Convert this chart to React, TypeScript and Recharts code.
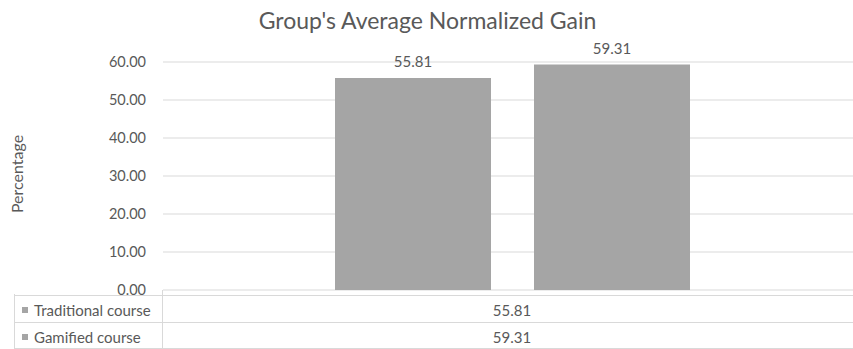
import { BarChart, Bar, XAxis, YAxis, CartesianGrid, LabelList } from 'recharts';

const categories = ['Group'];
const seriesNames = ['Traditional course', 'Gamified course'];
const traditional = [55.81];
const gamified = [59.31];
const yTicks = [0, 10, 20, 30, 40, 50, 60];

const data = categories.map((name, i) => ({
  name,
  traditional: traditional[i],
  gamified: gamified[i],
}));

const seriesValues = [traditional, gamified];

const font = 'Lato, "Open Sans", sans-serif';
const textGrey = '#595959';
const lineGrey = '#d9d9d9';
const barGrey = '#a5a5a5';

// data table rows under the plot
const rowTops = [295, 322];
const rowTextTops = [302, 329];

const App = () => {
  return (
    <div
      style={{
        position: 'fixed',
        left: 0,
        top: 0,
        width: 853,
        height: 349,
        overflow: 'hidden',
        background: '#fff',
        fontFamily: font,
      }}
    >
      <div
        style={{
          position: 'absolute',
          left: 0,
          width: 855,
          top: 7,
          textAlign: 'center',
          fontSize: 23,
          lineHeight: '26px',
          color: textGrey,
        }}
      >
        Group's Average Normalized Gain
      </div>
      <div
        style={{
          position: 'absolute',
          left: 17,
          top: 174,
          transform: 'translate(-50%, -50%) rotate(-90deg)',
          fontSize: 16,
          lineHeight: '18px',
          color: textGrey,
          whiteSpace: 'nowrap',
        }}
      >
        Percentage
      </div>

      <BarChart
        width={862}
        height={349}
        data={data}
        margin={{ top: 62, right: 0, bottom: 59, left: 0 }}
        barSize={156}
        barGap={43}
        style={{ position: 'absolute', left: 0, top: 0 }}
      >
        <CartesianGrid vertical={false} stroke={lineGrey} />
        <XAxis dataKey="name" height={0} tick={false} tickLine={false} axisLine={{ stroke: lineGrey }} />
        <YAxis
          width={163}
          domain={[0, 60]}
          ticks={yTicks}
          tickFormatter={(v) => Number(v).toFixed(2)}
          axisLine={false}
          tickLine={false}
          tickSize={0}
          tickMargin={17}
          tick={{ fill: textGrey, fontSize: 14.5, fontFamily: font }}
        />
        <Bar dataKey="traditional" fill={barGrey} isAnimationActive={false}>
          <LabelList
            dataKey="traditional"
            position="top"
            offset={11}
            formatter={(v: any) => Number(v).toFixed(2)}
            style={{ fill: textGrey, fontSize: 15, fontFamily: font }}
          />
        </Bar>
        <Bar dataKey="gamified" fill={barGrey} isAnimationActive={false}>
          <LabelList
            dataKey="gamified"
            position="top"
            offset={11}
            formatter={(v: any) => Number(v).toFixed(2)}
            style={{ fill: textGrey, fontSize: 15, fontFamily: font }}
          />
        </Bar>
      </BarChart>

      {/* data table */}
      <div style={{ position: 'absolute', left: 14, top: 294, width: 1, height: 60, background: lineGrey }} />
      <div style={{ position: 'absolute', left: 162, top: 290, width: 1, height: 60, background: lineGrey }} />
      {rowTops.map((t) => (
        <div key={t} style={{ position: 'absolute', left: 14, top: t, width: 860, height: 1, background: lineGrey }} />
      ))}
      <div style={{ position: 'absolute', left: 14, top: 348, width: 860, height: 1, background: lineGrey }} />
      {seriesNames.map((s, i) => (
        <div key={s}>
          <div
            style={{
              position: 'absolute',
              left: 22,
              top: rowTextTops[i] + 5,
              width: 6,
              height: 6,
              background: barGrey,
            }}
          />
          <div
            style={{
              position: 'absolute',
              left: 34,
              top: rowTextTops[i],
              fontSize: 15,
              lineHeight: '17px',
              color: textGrey,
              whiteSpace: 'nowrap',
            }}
          >
            {s}
          </div>
          <div
            style={{
              position: 'absolute',
              left: 412,
              width: 200,
              top: rowTextTops[i],
              textAlign: 'center',
              fontSize: 15,
              lineHeight: '17px',
              color: textGrey,
            }}
          >
            {seriesValues[i][0].toFixed(2)}
          </div>
        </div>
      ))}
    </div>
  );
};

export default App;
